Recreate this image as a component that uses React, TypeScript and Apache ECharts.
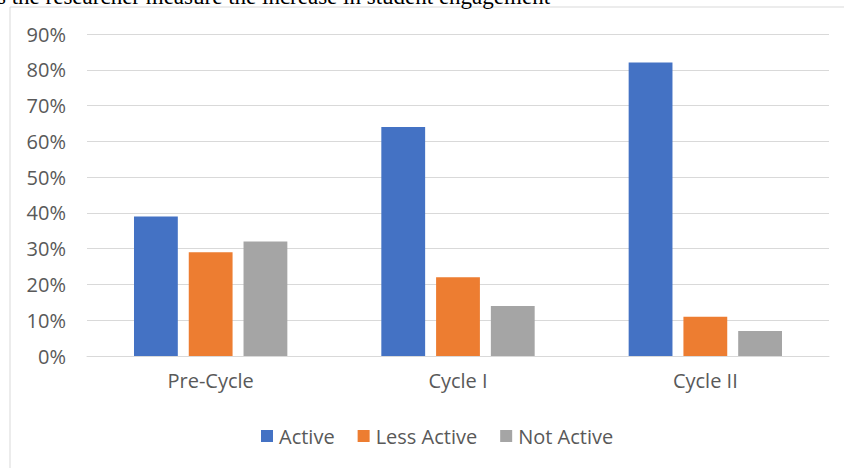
import React, { useEffect, useRef } from "react";
import * as echarts from "echarts";

const categories = ["Pre-Cycle", "Cycle I", "Cycle II"];
const activeValues = [39, 64, 82];
const lessActiveValues = [29, 22, 11];
const notActiveValues = [32, 14, 7];
const seriesNames = ["Active", "Less Active", "Not Active"];
const colors = ["#4472C4", "#ED7D31", "#A5A5A5"];
const headerText = "s the researcher measure the increase in student engagement";

export default function App() {
  const ref = useRef<HTMLDivElement>(null);
  useEffect(() => {
    if (!ref.current) return;
    const chart = echarts.init(ref.current, null, { renderer: "svg" });
    const font = "Open Sans";
    const data = [activeValues, lessActiveValues, notActiveValues];
    chart.setOption({
      animation: false,
      backgroundColor: "#ffffff",
      graphic: [
        {
          type: "rect",
          shape: { x: 10, y: 7, width: 900, height: 500 },
          style: { fill: "none", stroke: "#d9d9d9", lineWidth: 1 },
          silent: true,
        },
        {
          type: "text",
          x: -3,
          y: -15,
          style: {
            text: headerText,
            font: "23px 'Liberation Serif'",
            fill: "#000000",
          },
        },
      ],
      grid: { left: 87, right: 15, top: 34, bottom: 112, containLabel: false },
      legend: {
        top: 426,
        left: 261,
        padding: 0,
        itemWidth: 12,
        itemHeight: 12,
        itemGap: 23,
        icon: "rect",
        textStyle: { fontFamily: font, fontSize: 20, color: "#595959", padding: [0, 0, 0, 1] },
        data: seriesNames,
      },
      xAxis: {
        type: "category",
        data: categories,
        axisLine: { lineStyle: { color: "#d9d9d9", width: 1 } },
        axisTick: { show: false },
        axisLabel: { fontFamily: font, fontSize: 20, color: "#595959", margin: 14 },
      },
      yAxis: {
        type: "value",
        min: 0,
        max: 90,
        interval: 10,
        axisLine: { show: false },
        axisTick: { show: false },
        axisLabel: {
          formatter: "{value}%",
          fontFamily: font,
          fontSize: 20,
          color: "#595959",
          margin: 21,
        },
        splitLine: { lineStyle: { color: "#d9d9d9", width: 1 } },
      },
      series: seriesNames.map((name, i) => ({
        name,
        type: "bar",
        data: data[i],
        barGap: "25%",
        barCategoryGap: "38%",
        itemStyle: { color: colors[i] },
      })),
    });
    return () => chart.dispose();
  }, []);
  return (
    <div
      ref={ref}
      style={{ position: "fixed", left: 0, top: 0, width: 844, height: 468 }}
    />
  );
}
